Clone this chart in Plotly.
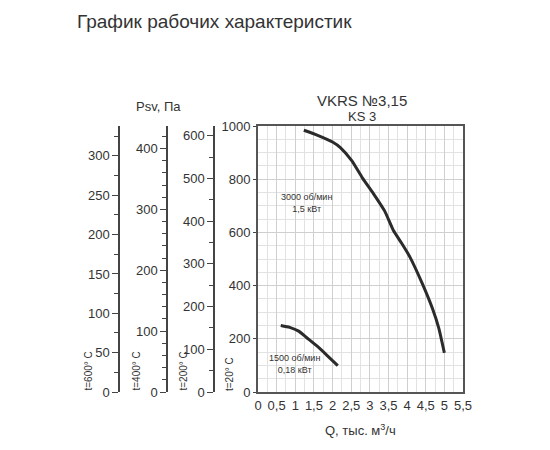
import plotly.graph_objects as go

q_3000 = [1.23, 1.6, 2.0, 2.21, 2.52, 2.8, 3.1, 3.4, 3.63, 3.85, 4.07, 4.4, 4.69, 4.85, 5.0]
p_3000 = [984, 965, 940, 919, 869, 805, 745, 680, 608, 560, 509, 410, 310, 240, 147]
q_1500 = [0.61, 0.85, 1.09, 1.3, 1.58, 1.85, 2.14]
p_1500 = [250, 243, 229, 205, 173, 138, 99]

x_ticks = [0, 0.5, 1, 1.5, 2, 2.5, 3, 3.5, 4, 4.5, 5, 5.5]
x_labels = ["0", "0,5", "1", "1,5", "2", "2,5", "3", "3,5", "4", "4,5", "5", "5,5"]

W, H = 550, 450
OFF = 8  # page body margin
def px(x): return (x - OFF) / W
def py(y): return 1 - (y - OFF) / H

ydom = [py(392), py(126)]
font = dict(family="Liberation Sans, Arial", color="#333", size=12)
fig = go.Figure()
line = dict(color="#2b2b2b", width=3)
fig.add_trace(go.Scatter(x=q_3000, y=p_3000, mode="lines", line=dict(shape="spline", smoothing=0.5, **line), showlegend=False))
fig.add_trace(go.Scatter(x=q_1500, y=p_1500, mode="lines", line=dict(shape="spline", smoothing=0.5, **line), showlegend=False))

for ax in ["y2", "y3", "y4"]:
    fig.add_trace(go.Scatter(x=[None], y=[None], yaxis=ax, showlegend=False))

fig.update_layout(
    width=W, height=H, margin=dict(l=0, r=0, t=0, b=0, autoexpand=False),
    plot_bgcolor="white", paper_bgcolor="white", font=font,
    xaxis=dict(domain=[px(258), px(463)], range=[0, 5.5], tickvals=x_ticks, ticktext=x_labels,
               showgrid=True, gridcolor="#cfcfcf", gridwidth=1,
               minor=dict(dtick=0.25, showgrid=True, gridcolor="#e2e2e2"),
               showline=True, linecolor="#555", linewidth=2, mirror=True, ticks="", zeroline=False,
               tickfont=dict(size=13)),
    yaxis=dict(domain=ydom, range=[0, 1000], dtick=200, showgrid=True, gridcolor="#cfcfcf",
               minor=dict(dtick=50, showgrid=True, gridcolor="#e2e2e2"),
               showline=True, linecolor="#555", linewidth=2, mirror=True, zeroline=False,
               ticks="outside", ticklen=3, tickfont=dict(size=13)),
)
def side_axis(pos, top, dt, mdt):
    return dict(domain=ydom, range=[0, top], dtick=dt, anchor="free", position=pos, overlaying="y",
                side="left", showgrid=False, zeroline=False, showline=True, linecolor="#444", linewidth=1.5,
                ticks="outside", ticklen=6, tickcolor="#444",
                minor=dict(dtick=mdt, ticks="outside", ticklen=4, tickcolor="#444"),
                tickfont=dict(size=13))
fig.update_layout(yaxis2=side_axis(px(119), 338, 50, 25),
                  yaxis3=side_axis(px(167), 437, 100, 20),
                  yaxis4=side_axis(px(214), 623, 100, 50))

ann = [
    dict(x=px(75), y=py(22), text="График рабочих характеристик", font=dict(size=19, color="#333"), xanchor="left"),
    dict(x=px(158), y=py(107), text="Psv, Па", font=dict(size=13)),
    dict(x=px(362), y=py(100), text="VKRS №3,15", font=dict(size=15)),
    dict(x=px(362), y=py(116), text="KS 3", font=dict(size=13)),
    dict(x=px(360), y=py(430), text="Q, тыс. м<sup>3</sup>/ч", font=dict(size=13)),
    dict(x=px(307), y=py(203), text="3000 об/мин<br>1,5 кВт", font=dict(size=9)),
    dict(x=px(294), y=py(364), text="1500 об/мин<br>0,18 кВт", font=dict(size=9)),
]
for x, t in [(88, "t=600° C"), (136, "t=400° C"), (183, "t=200° C"), (229, "t=20° C")]:
    ann.append(dict(x=px(x), y=py(393), text=t, textangle=-90, yanchor="bottom", font=dict(size=10)))
for a in ann:
    a.setdefault("xanchor", "center")
    a.setdefault("yanchor", "middle")
    a.update(xref="paper", yref="paper", showarrow=False)
fig.update_layout(annotations=ann)
fig.write_html("out.html")
